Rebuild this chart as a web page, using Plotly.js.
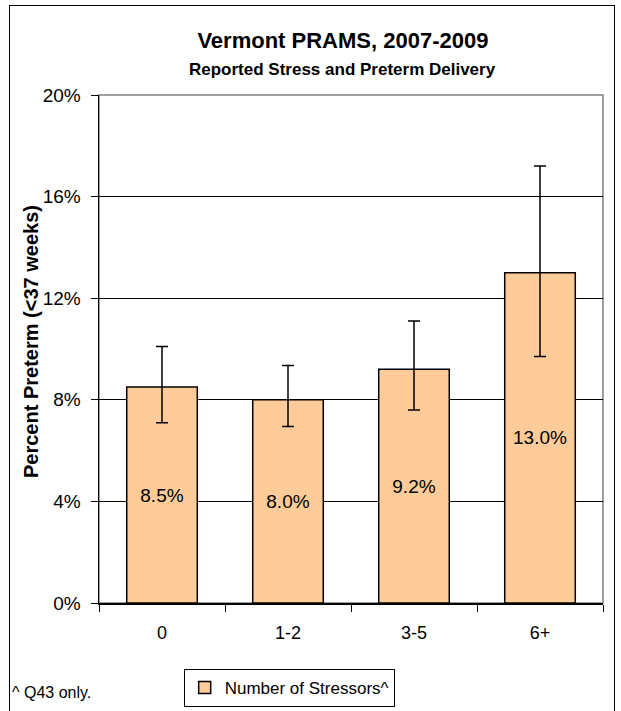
<!DOCTYPE html>
<html>
<head>
<meta charset="utf-8">
<script src="https://cdn.plot.ly/plotly-3.0.1.min.js"></script>
<style>
  html, body { margin: 0; padding: 0; background: #fff; }
  #wrap { position: relative; width: 621px; height: 711px; overflow: hidden; }
  #frame { position: absolute; left: 9px; top: 5px; width: 604px; height: 720px; border: 1.5px solid #000; pointer-events: none; z-index: 5; }
  #chart { position: absolute; left: 0; top: 0; width: 621px; height: 711px; }
</style>
</head>
<body>
<div id="wrap">
  <div id="chart"></div>
  <div id="frame"></div>
</div>
<script>
const categories = ['0', '1-2', '3-5', '6+'];
const values = [0.085, 0.080, 0.092, 0.130];
const ciLow = [0.071, 0.0695, 0.076, 0.097];
const ciHigh = [0.101, 0.0935, 0.111, 0.172];
const yTicks = [0, 0.04, 0.08, 0.12, 0.16, 0.20];
const seriesName = 'Number of Stressors^';
const titleText = 'Vermont PRAMS, 2007-2009';
const subtitleText = 'Reported Stress and Preterm Delivery';
const yTitleText = 'Percent Preterm (<37 weeks)';
const noteText = '^ Q43 only.';

const FONT = 'Liberation Sans, Arial, Helvetica, sans-serif';

const trace = {
  type: 'bar',
  x: categories,
  y: values,
  name: seriesName,
  marker: { color: '#FFCC99', line: { color: '#000', width: 1.5 } },
  texttemplate: '%{y:.1%}',
  textposition: 'inside',
  insidetextanchor: 'middle',
  textangle: 0,
  textfont: { family: FONT, size: 19, color: '#000' },
  error_y: {
    type: 'data',
    symmetric: false,
    array: values.map((v, i) => ciHigh[i] - v),
    arrayminus: values.map((v, i) => v - ciLow[i]),
    color: '#000',
    thickness: 1.5,
    width: 6
  },
  showlegend: true,
  hoverinfo: 'none'
};

const layout = {
  width: 621,
  height: 711,
  margin: { l: 99, r: 18, t: 95, b: 108, autoexpand: false },
  paper_bgcolor: '#fff',
  plot_bgcolor: '#fff',
  font: { family: FONT, color: '#000', size: 18 },
  bargap: 0.44,
  title: {
    text: '<b>' + titleText + '</b>',
    font: { family: FONT, size: 22, color: '#000' },
    x: 0.484, xanchor: 'center', xref: 'paper',
    y: 1 - 40 / 711, yanchor: 'middle', yref: 'container'
  },
  xaxis: {
    type: 'category',
    automargin: false,
    tickson: 'boundaries',
    ticks: 'outside',
    ticklen: 7,
    tickcolor: '#000',
    ticklabelstandoff: 13,
    showline: true,
    linecolor: '#000',
    linewidth: 1.5,
    showgrid: false,
    tickfont: { family: FONT, size: 18, color: '#000' },
    fixedrange: true
  },
  yaxis: {
    automargin: false,
    range: [0, 0.2],
    tickvals: yTicks,
    tickformat: '.0%',
    ticks: 'outside',
    ticklen: 7,
    tickcolor: '#000',
    ticklabelstandoff: 6,
    showline: true,
    linecolor: '#000',
    linewidth: 1.5,
    showgrid: true,
    gridcolor: '#000',
    gridwidth: 1,
    zeroline: false,
    tickfont: { family: FONT, size: 19, color: '#000' },
    fixedrange: true
  },
  shapes: [
    { type: 'rect', xref: 'paper', yref: 'paper', x0: 0, x1: 1, y0: 0, y1: 1,
      line: { color: '#808080', width: 1.5 }, layer: 'below' }
  ],
  legend: {
    x: 0.168, xanchor: 'left', xref: 'paper',
    y: 1 - 669 / 711, yanchor: 'top', yref: 'container',
    orientation: 'h',
    bordercolor: '#000',
    borderwidth: 1,
    bgcolor: '#fff',
    font: { family: FONT, size: 17, color: '#000' },
    itemwidth: 30
  },
  annotations: [
    { text: '<b>' + subtitleText + '</b>', xref: 'paper', yref: 'paper', x: 0.484, y: (603 - 69) / 508,
      xanchor: 'center', yanchor: 'middle', showarrow: false,
      font: { family: FONT, size: 17, color: '#000' } },
    { text: '<b>' + yTitleText + '</b>', xref: 'paper', yref: 'paper', x: (31 - 99) / 504, y: (603 - 342) / 508,
      xanchor: 'center', yanchor: 'middle', textangle: -90, showarrow: false,
      font: { family: FONT, size: 20, color: '#000' } },
    { text: noteText, xref: 'paper', yref: 'paper', x: (10 - 99) / 504, y: (603 - 692) / 508,
      xanchor: 'left', yanchor: 'middle', showarrow: false,
      font: { family: FONT, size: 16, color: '#000' } }
  ]
};

Plotly.newPlot('chart', [trace], layout, { displayModeBar: false, staticPlot: true });
</script>
</body>
</html>
